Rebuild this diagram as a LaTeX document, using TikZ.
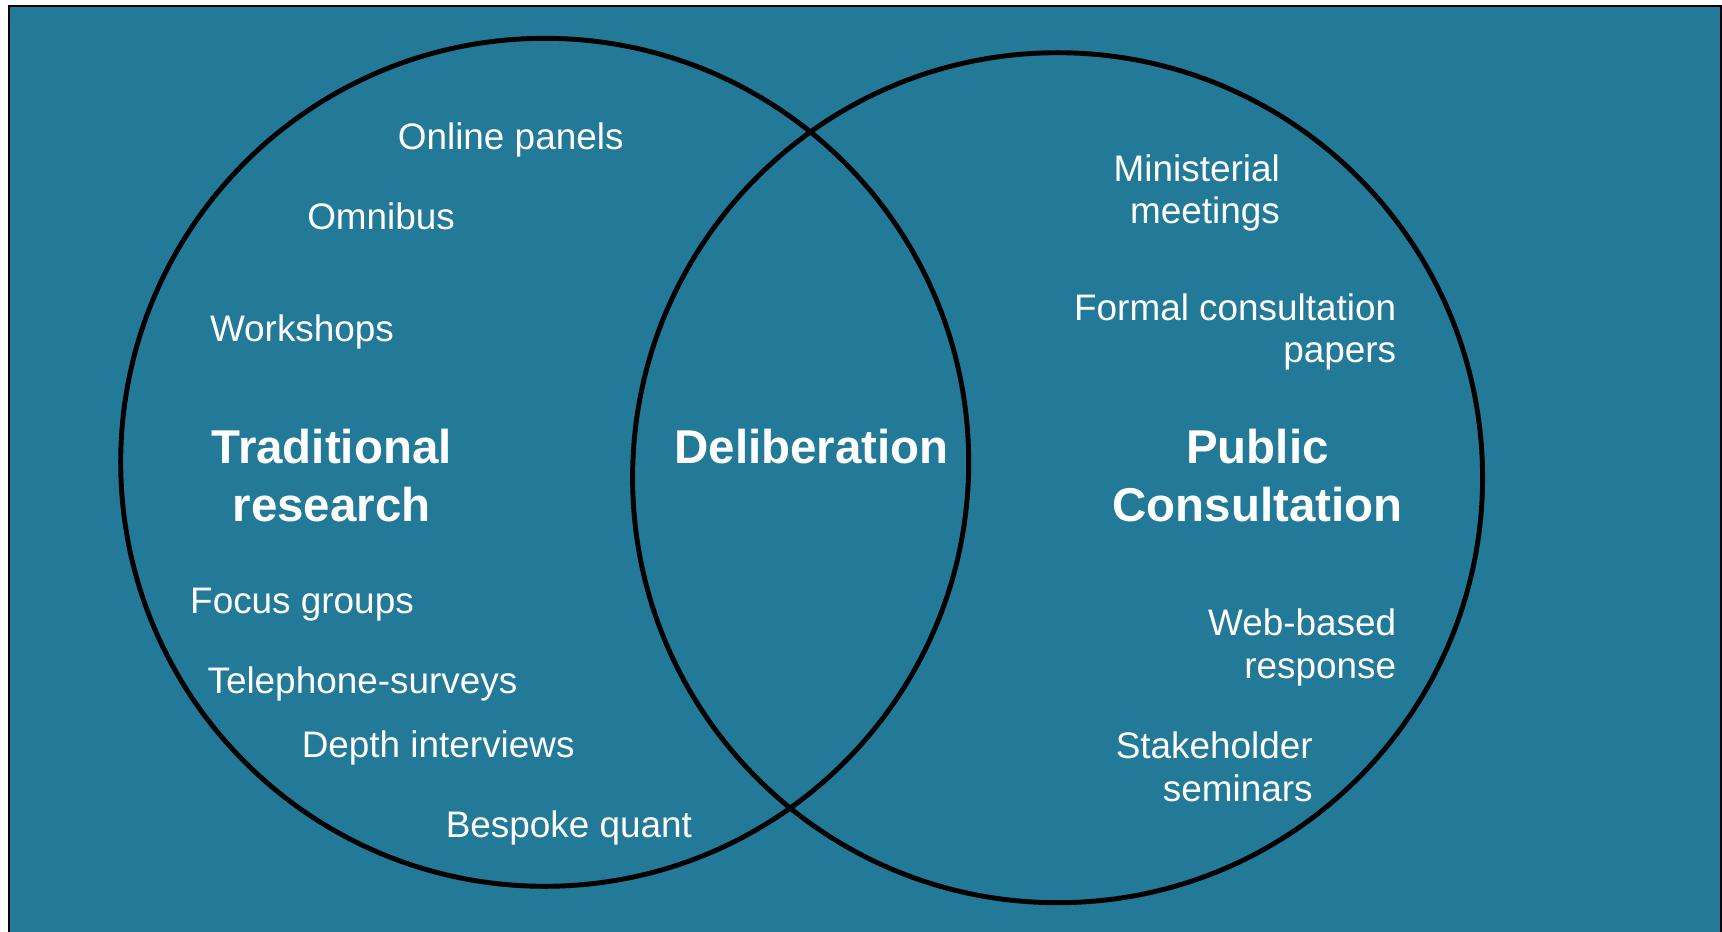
\documentclass[tikz,border=0pt]{standalone}
\usepackage{fontspec}
\setmainfont{Liberation Sans}
\usepackage{xcolor}
\usepackage{tikz}
\usetikzlibrary{positioning}
\definecolor{vennblue}{RGB}{34,122,152}

\tikzset{
  item/.style={text=white, inner sep=0pt, yshift=-0.035cm, font=\fontsize{10.5}{12.2}\selectfont},
  heading/.style={text=white, inner sep=0pt, font=\fontsize{13.5}{16.5}\selectfont\bfseries, align=center},
}

\begin{document}
\begin{tikzpicture}
      \useasboundingbox (0,0) rectangle (17.22,9.31);
      \fill[white] (0,0) rectangle (17.22,9.31);
      \draw[fill=vennblue, line width=0.4pt] (0.09,-0.1) rectangle (17.21,9.25);
      % the two sets
      \draw[line width=1.4pt] (5.447,4.687) circle (4.24);
      \draw[line width=1.4pt] (10.576,4.533) circle (4.25);
      % left set
      \node[heading] (trad) at (3.317,4.555) {Traditional\\research};
      \node[item] (online) at (5.107,7.948) {Online panels};
      \node[item] (omnibus) at (3.811,7.18) {Omnibus};
      \node[item] (workshops) at (3.02,6.026) {Workshops};
      \node[item] (focus) at (3.02,3.303) {Focus groups};
      \node[item] (phone) at (3.624,2.501) {Telephone-surveys};
      \node[item] (depth) at (4.382,1.864) {Depth interviews};
      \node[item] (quant) at (5.689,1.062) {Bespoke quant};
      % overlap
      \node[heading] (delib) at (8.116,4.84) {Deliberation};
      % right set
      \node[heading] (public) at (12.574,4.555) {Public\\Consultation};
      \node[item, align=right, anchor=east] (minister) at (12.805,7.416) {Ministerial\\meetings};
      \node[item, align=right, anchor=east] (formal) at (13.969,6.026) {Formal consultation\\papers};
      \node[item, align=right, anchor=east] (web) at (13.969,2.869) {Web-based\\response};
      \node[item, align=right, anchor=east] (stake) at (13.134,1.675) {Stakeholder\\seminars};
\end{tikzpicture}
\end{document}
